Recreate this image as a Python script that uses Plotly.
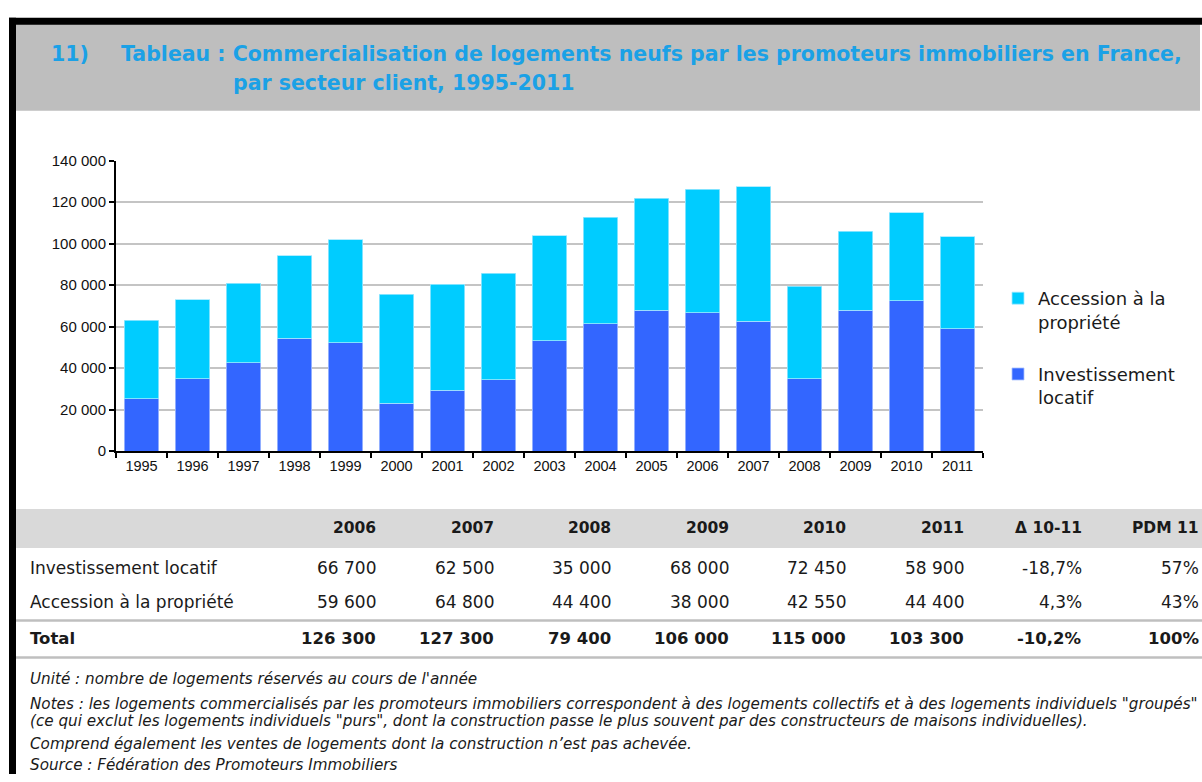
import plotly.graph_objects as go

W, H = 1202, 782

years = [str(y) for y in range(1995, 2012)]
investissement = [25200, 34900, 42500, 54300, 52200, 23100, 29300, 34300, 53300,
                  61300, 68000, 66700, 62500, 35000, 68000, 72450, 58900]
accession = [38000, 38100, 38400, 39800, 49700, 52400, 51200, 51400, 50400,
             51500, 53900, 59600, 64800, 44400, 38000, 42550, 44400]
y_ticks = [0, 20000, 40000, 60000, 80000, 100000, 120000, 140000]

table_heads = ["2006", "2007", "2008", "2009", "2010", "2011", "Δ 10-11", "PDM 11"]
row_labels = ["Investissement locatif", "Accession à la propriété", "Total"]

notes = [
    "Unité : nombre de logements réservés au cours de l'année",
    "Notes : les logements commercialisés par les promoteurs immobiliers correspondent à des logements collectifs et à des logements individuels \"groupés\"",
    "(ce qui exclut les logements individuels \"purs\", dont la construction passe le plus souvent par des constructeurs de maisons individuelles).",
    "Comprend également les ventes de logements dont la construction n’est pas achevée.",
    "Source : Fédération des Promoteurs Immobiliers",
]

GOTHIC = "DejaVu Sans"
ARIAL = "Liberation Sans"


def px(x):
    return x / W


def py(y):
    return 1 - y / H


def fmt(v):
    return f"{v:,.0f}".replace(",", " ")


def pct(v):
    return f"{v * 100:.1f}%".replace(".", ",")


fig = go.Figure()
fig.add_trace(go.Bar(x=years, y=investissement, name="Investissement<br>locatif",
                     marker=dict(color="#3366FF", line=dict(color="#A9C0FF", width=0.8)),
                     legendgroup="a", legendrank=2))
fig.add_trace(go.Bar(x=years, y=accession, name="Accession à la<br>propriété",
                     marker=dict(color="#00CCFF", line=dict(color="#9FE8FF", width=0.8)),
                     legendgroup="b", legendrank=1))

shapes = []
# cadre noir + bandeau de titre
shapes.append(dict(type="rect", xref="paper", yref="paper", x0=px(15), x1=px(1200),
                   y0=py(104), y1=py(15), fillcolor="#BEBEBE", line_width=0, layer="below"))
shapes.append(dict(type="rect", xref="paper", yref="paper", x0=px(9), x1=px(1202),
                   y0=py(16), y1=py(9), fillcolor="black", line_width=0))
shapes.append(dict(type="rect", xref="paper", yref="paper", x0=px(9), x1=px(16),
                   y0=py(782), y1=py(9), fillcolor="black", line_width=0))
# tableau
shapes.append(dict(type="rect", xref="paper", yref="paper", x0=px(16), x1=px(1202),
                   y0=py(551), y1=py(511), fillcolor="#D9D9D9", line_width=0, layer="below"))
for yl in [625, 663]:
    shapes.append(dict(type="line", xref="paper", yref="paper", x0=px(16), x1=px(1202),
                       y0=py(yl), y1=py(yl), line=dict(color="#BFBFBF", width=2.5)))

ann = []
title_col = "#1BA1E6"
tf = dict(family=GOTHIC, size=20.5, color=title_col)
ann.append(dict(text="<b>11)</b>", x=px(49), y=py(46), xanchor="left", yanchor="middle", font=tf))
ann.append(dict(text="<b>Tableau : Commercialisation de logements neufs par les promoteurs immobiliers en France,</b>",
                x=px(119), y=py(46), xanchor="left", yanchor="middle", font=tf))
ann.append(dict(text="<b>par secteur client, 1995-2011</b>", x=px(231), y=py(76),
                xanchor="left", yanchor="middle", font=tf))

# tableau : en-têtes et lignes
i0 = years.index("2006")
inv_t = investissement[i0:]
acc_t = accession[i0:]
tot_t = [a + b for a, b in zip(inv_t, acc_t)]
rows = []
for vals in [inv_t, acc_t, tot_t]:
    rows.append([fmt(v) for v in vals] + [pct(vals[-1] / vals[-2] - 1), f"{vals[-1] / tot_t[-1] * 100:.0f}%"])

col_right = [378 + 117.6 * i for i in range(len(table_heads))]
row_y = [571, 606, 643]
hfont = dict(family=GOTHIC, size=15.5, color="#1A1A1A")
rfont = dict(family=GOTHIC, size=17, color="#1A1A1A")
bfont = dict(family=GOTHIC, size=16.5, color="#1A1A1A")
for xr, h in zip(col_right, table_heads):
    ann.append(dict(text=f"<b>{h}</b>", x=px(xr), y=py(531), xanchor="right", yanchor="middle", font=hfont))
for r, (lab, vals, yy) in enumerate(zip(row_labels, rows, row_y)):
    bold = r == 2
    f = bfont if bold else rfont
    t = f"<b>{lab}</b>" if bold else lab
    ann.append(dict(text=t, x=px(28), y=py(yy), xanchor="left", yanchor="middle", font=f))
    for xr, v in zip(col_right, vals):
        t = f"<b>{v}</b>" if bold else v
        ann.append(dict(text=t, x=px(xr), y=py(yy), xanchor="right", yanchor="middle", font=f))

note_y = [685, 710, 728, 751, 773]
for txt, yy in zip(notes, note_y):
    ann.append(dict(text=f"<i>{txt}</i>", x=px(28), y=py(yy), xanchor="left", yanchor="middle",
                    font=dict(family=GOTHIC, size=15.2, color="#1A1A1A")))

for a in ann:
    a.update(xref="paper", yref="paper", showarrow=False)

fig.update_layout(
    width=W, height=H, autosize=False,
    margin=dict(l=0, r=0, t=0, b=0),
    paper_bgcolor="white", plot_bgcolor="white",
    barmode="stack", bargap=0.33,
    separators=", ",
    shapes=shapes, annotations=ann,
    showlegend=True,
    legend=dict(x=px(998), y=py(277), xanchor="left", yanchor="top",
                traceorder="grouped", valign="top", tracegroupgap=26,
                font=dict(family=GOTHIC, size=18, color="#1A1A1A"),
                bgcolor="rgba(0,0,0,0)", itemclick=False),
    xaxis=dict(domain=[px(116), px(983)], type="category",
               showline=True, linecolor="black", linewidth=2,
               ticks="outside", tickson="boundaries", ticklen=5, tickwidth=2, tickcolor="black",
               tickfont=dict(family=ARIAL, size=14.5, color="#111"), showgrid=False),
    yaxis=dict(domain=[py(452), py(155)], range=[0, 140000], tickvals=y_ticks,
               tickformat=",d", showline=True, linecolor="black", linewidth=2,
               ticks="outside", ticklen=5, tickwidth=2, tickcolor="black",
               showgrid=True, gridcolor="#C4C4C4", gridwidth=2, zeroline=False,
               tickfont=dict(family=ARIAL, size=15, color="#111")),
)

pin = ("document.body.style.margin='0';document.body.style.overflow='hidden';"
       "var gd=document.getElementById('{plot_id}');"
       "gd.style.position='fixed';gd.style.left='0px';gd.style.top='0px';")
fig.write_html("out.html", config={"displayModeBar": False}, post_script=pin)
